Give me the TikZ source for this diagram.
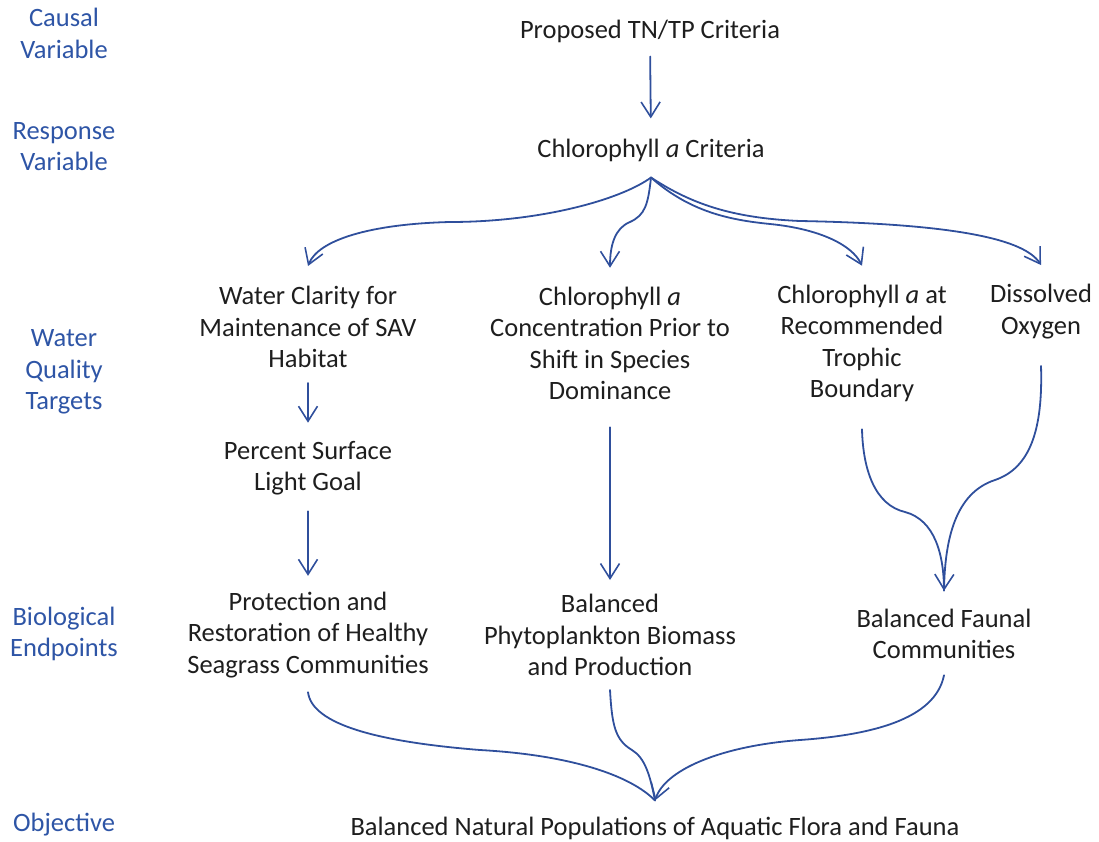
\documentclass[tikz,border=0pt]{standalone}
\usepackage{fontspec}
\setmainfont{Carlito}
\usetikzlibrary{arrows.meta}
\definecolor{linkblue}{HTML}{2F4F9C}
\definecolor{tierblue}{HTML}{2E55A6}
\definecolor{inkgray}{HTML}{1E1E1E}
\begin{document}
\begin{tikzpicture}[x=1pt,y=1pt,
  txt/.style={inner sep=0pt, align=center, text=inkgray,
    font=\fontsize{26.5}{31.5}\selectfont},
  tier/.style={txt, text=tierblue},
  link/.style={draw=linkblue, line width=1.8pt, line cap=round, line join=round},
  arr/.style={link, -{Straight Barb[length=15pt,width=19pt,line width=1.6pt]}}]
\useasboundingbox (0,0) rectangle (1099,-842);

% tier labels
\node[tier] (lcausal) at (64,-33.5) {Causal\\Variable};
\node[tier] (lresp)   at (64,-146.5) {Response\\Variable};
\node[tier] (lwq)     at (64,-372) {Water\\Quality\\Targets};
\node[tier] (lbio)    at (64,-634) {Biological\\Endpoints};
\node[tier] (lobj)    at (64,-825) {Objective};

% boxes of text
\node[txt] (tn)   at (650,-31)  {Proposed TN/TP Criteria};
\node[txt] (chl)  at (651,-150) {Chlorophyll \textit{a} Criteria};
\node[txt] (wc)   at (308,-327) {Water Clarity for\\Maintenance of SAV\\Habitat};
\node[txt] (conc) at (610,-343.5) {Chlorophyll \textit{a}\\Concentration Prior to\\Shift in Species\\Dominance};
\node[txt] (tro)  at (862,-343.5) {Chlorophyll \textit{a} at\\Recommended\\Trophic\\Boundary};
\node[txt] (do)   at (1041,-311.5) {Dissolved\\Oxygen};
\node[txt] (psl)  at (308,-468) {Percent Surface\\Light Goal};
\node[txt] (prot) at (308,-635) {Protection and\\Restoration of Healthy\\Seagrass Communities};
\node[txt] (phy)  at (610,-635) {Balanced\\Phytoplankton Biomass\\and Production};
\node[txt] (fau)  at (944,-634) {Balanced Faunal\\Communities};
\node[txt] (obj)  at (655,-828) {Balanced Natural Populations of Aquatic Flora and Fauna};

% connector end points
\coordinate (hub)      at ([yshift=-16pt]chl.south);
\coordinate (wcTip)    at ([yshift=20pt]wc.north);
\coordinate (concTip)  at ([yshift=19pt]conc.north);
\coordinate (troTip)   at ([yshift=19pt]tro.north);
\coordinate (doTip)    at ([yshift=19pt]do.north);
\coordinate (troOut)   at ([yshift=-27pt]tro.south);
\coordinate (doOut)    at ([yshift=-27pt]do.south);
\coordinate (fauTip)   at ([yshift=18pt]fau.north);
\coordinate (protOut)  at ([yshift=-14pt]prot.south);
\coordinate (phyOut)   at ([yshift=-14pt]phy.south);
\coordinate (fauOut)   at ([yshift=-16pt]fau.south);
\coordinate (objTip)   at ([yshift=16pt]obj.north);

% causal -> response
\draw[arr, shorten <=14pt, shorten >=20pt] (tn.south) -- (chl.north);

% response -> water quality targets
\draw[arr] (hub) .. controls (620,-200) and (540,-222) .. (450,-222)
              .. controls (370,-224) and (318,-240) .. (wcTip);
\draw[arr] (hub) .. controls (648,-205) and (645,-215) .. (630,-222)
              .. controls (615,-228) and (610,-245) .. (concTip);
\draw[arr] (hub) .. controls (690,-212) and (730,-220) .. (770,-224)
              .. controls (820,-229) and (852,-245) .. (troTip);
\draw[arr] (hub) .. controls (690,-203) and (730,-218) .. (800,-221)
              .. controls (960,-224) and (1025,-240) .. (doTip);

% targets -> endpoints
\draw[arr, shorten <=15pt, shorten >=18pt] (wc.south) -- (psl.north);
\draw[arr, shorten <=16pt, shorten >=16pt] (psl.south) -- (prot.north);
\draw[arr, shorten <=27pt, shorten >=14pt] (conc.south) -- (phy.north);
\draw[link] (troOut) .. controls (863,-470) and (875,-505) .. (905,-512)
               .. controls (935,-520) and (944,-555) .. (fauTip);
\draw[arr] (doOut) .. controls (1043,-430) and (1030,-468) .. (995,-480)
              .. controls (955,-493) and (945,-540) .. (fauTip);

% endpoints -> objective
\draw[link] (protOut) .. controls (312,-725) and (380,-742) .. (480,-750)
               .. controls (570,-755) and (630,-775) .. (objTip);
\draw[link] (phyOut) .. controls (612,-725) and (615,-740) .. (632,-750)
               .. controls (645,-758) and (650,-775) .. (objTip);
\draw[arr] (fauOut) .. controls (935,-720) and (870,-735) .. (800,-740)
              .. controls (720,-746) and (665,-770) .. (objTip);
\end{tikzpicture}
\end{document}
